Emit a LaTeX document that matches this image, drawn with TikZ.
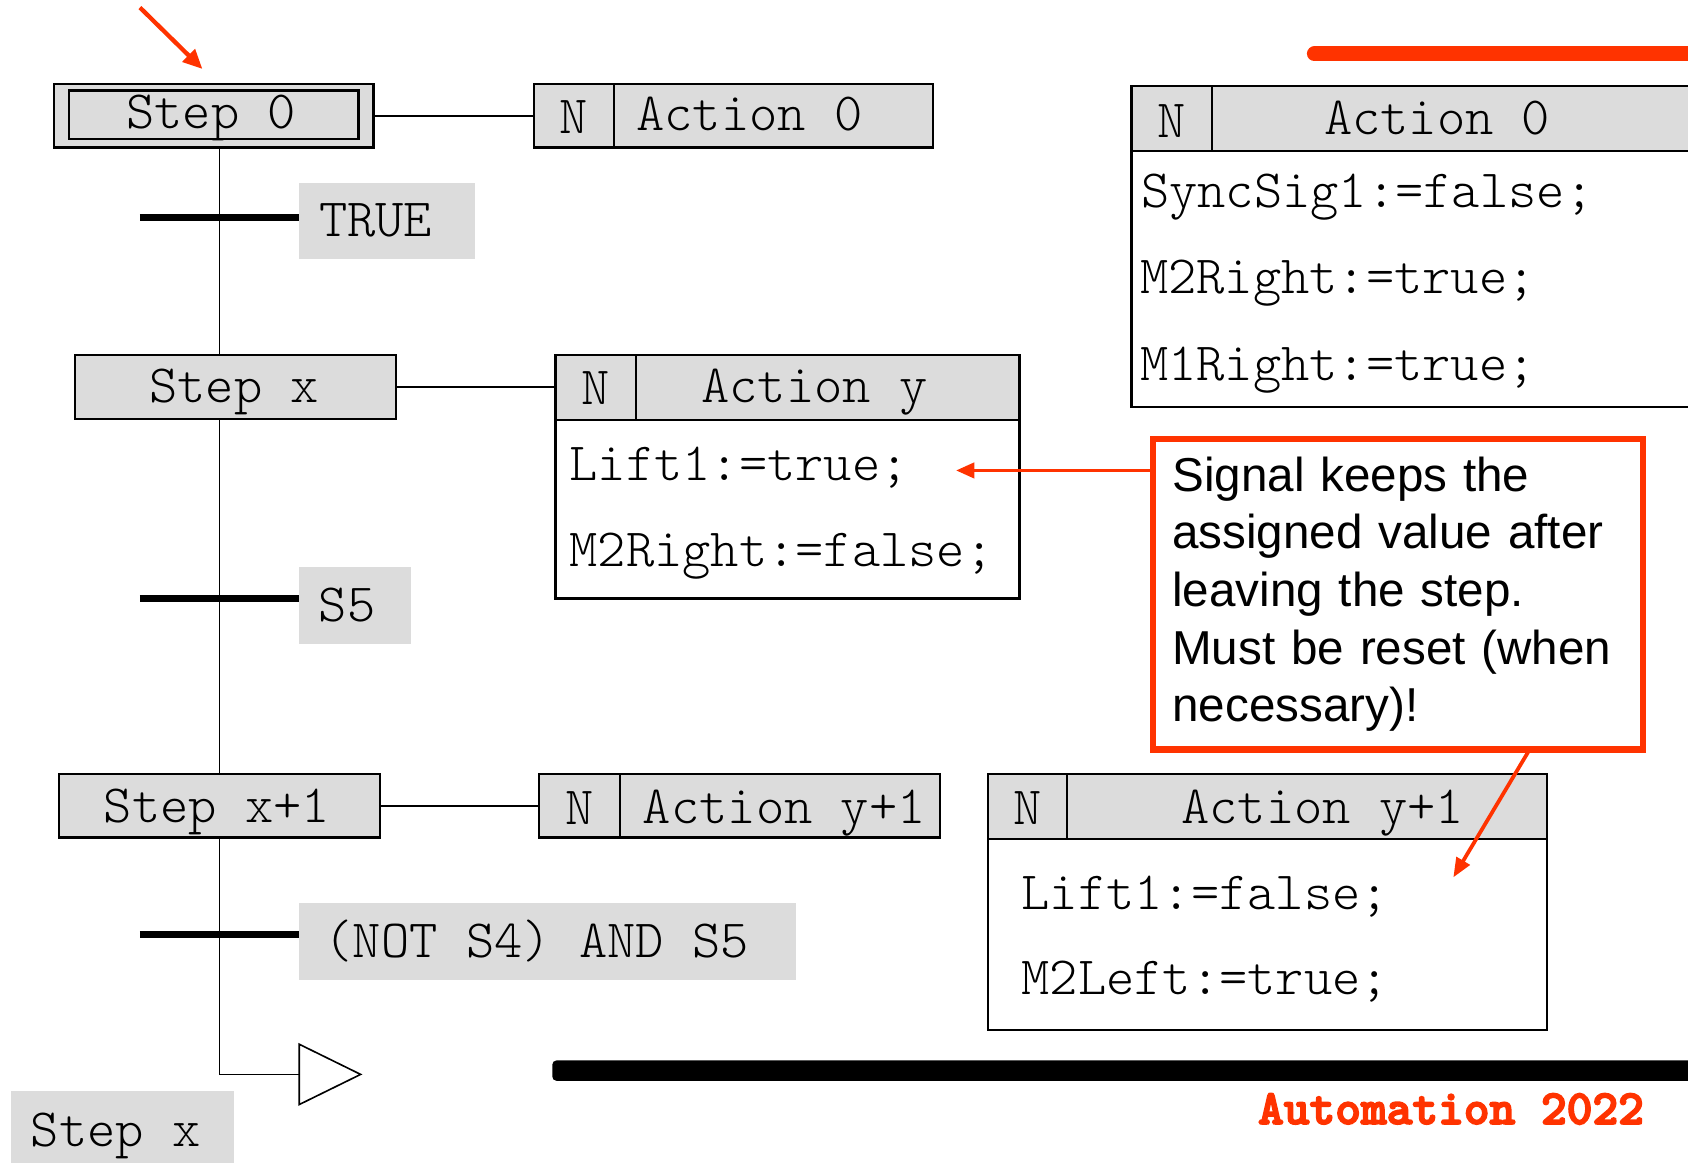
\documentclass[tikz,border=0pt]{standalone}
\usepackage{fontspec}
\newfontfamily\csans{Liberation Sans}
\usetikzlibrary{arrows.meta,calc}
\definecolor{boxgray}{RGB}{220,220,220}
\definecolor{hired}{RGB}{255,51,0}
\newcommand{\cmonofont}{\ttfamily\fontseries{l}\fontsize{50}{58}\selectfont}
\newcommand{\heavytext}[1]{\special{pdf:literal direct 2 Tr 1.6 w}#1\special{pdf:literal direct 0 Tr}}
\begin{document}
\begin{tikzpicture}[x=1pt,y=-1pt,
  every node/.style={inner sep=0pt, outer sep=0pt},
  mtext/.style={font=\cmonofont, anchor=base},
  mleft/.style={font=\cmonofont, anchor=base west},
  graybox/.style={draw=black, line width=2pt, fill=boxgray},
  whitebox/.style={draw=black, line width=2pt, fill=white},
  tlabel/.style={fill=boxgray},
  flow/.style={draw=black, line width=1.6pt},
  tbar/.style={draw=black, line width=6pt},
  redarrow/.style={draw=hired, line width=4pt, -{Triangle[length=18pt,width=16pt]}}
]
\useasboundingbox (0,0) rectangle (1568,1080);

% ---------- steps ----------
\node[graybox, minimum width=297, minimum height=59] (s0) at (198.5,107.5) {};
\draw[line width=2pt] ($(s0.north west)+(14,6)$) rectangle ($(s0.south east)+(-14,-8)$);
\node[mtext] (s0t) at (196,119) {Step 0};

\node[graybox, minimum width=298, minimum height=59] (sx) at (219,359.5) {};
\node[mtext] (sxt) at (217.5,374) {Step x};

\node[graybox, minimum width=298, minimum height=59] (sx1) at (204,748.5) {};
\node[mtext] (sx1t) at (201.5,764) {Step x+1};

% ---------- transitions ----------
\node[tlabel, minimum width=163, minimum height=71] (t1) at (359.5,205.5) {};
\node[mtext] (t1t) at (349,220) {TRUE};
\node[tlabel, minimum width=104, minimum height=71] (t2) at (330,562.5) {};
\node[mtext] (t2t) at (322.5,577) {S5};
\node[tlabel, minimum width=461, minimum height=71] (t3) at (508.5,874.5) {};
\node[mtext] (t3t) at (498.5,889) {(NOT S4) AND S5};

\coordinate (vx) at (204,0);
\coordinate (jump) at (278,998);
\draw[flow] (vx |- s0.south) -- (vx |- sx.north);
\draw[flow] (vx |- sx.south) -- (vx |- sx1.north);
\draw[flow] (vx |- sx1.south) -- (vx |- jump) -- (jump);
\draw[line width=1.5pt, fill=white] (jump) -- ++(0,-28) -- ++(57,28) -- ++(-57,28) -- cycle;

\coordinate (b1) at (130,202);
\coordinate (b2) at (130,556);
\coordinate (b3) at (130,868);
\draw[tbar] (b1) -- (b1 -| t1.west);
\draw[tbar] (b2) -- (b2 -| t2.west);
\draw[tbar] (b3) -- (b3 -| t3.west);

\node[tlabel, minimum width=207, minimum height=72] (sxb) at (113.5,1049) {};
\node[mtext] (sxbt) at (107.5,1065) {Step x};

% ---------- small actions ----------
\node[graybox, minimum width=74, minimum height=59] (a0n) at (533,107.5) {};
\node[graybox, minimum width=297, minimum height=59, anchor=west] (a0a) at (a0n.east) {};
\node[mtext] (a0nt) at (533,124) {N};
\node[mtext] (a0at) at (696,121) {Action 0};
\draw[flow] (s0.east) -- (s0.east -| a0n.west);

\node[graybox, minimum width=75, minimum height=60] (ayn) at (553.5,360) {};
\node[graybox, minimum width=356, minimum height=60, anchor=west] (aya) at (ayn.east) {};
\node[whitebox, minimum width=431, minimum height=166, anchor=north west] (ayb) at (ayn.south west) {};
\node[mtext] (aynt) at (553.5,376) {N};
\node[mtext] (ayat) at (756.5,374) {Action y};
\node[mleft] (ayl1) at (529,446) {Lift1:=true;};
\node[mleft] (ayl2) at (529,526) {M2Right:=false;};
\draw[flow] (sx.east) -- (sx.east -| ayn.west);

\node[graybox, minimum width=75, minimum height=59] (a1n) at (538.5,748.5) {};
\node[graybox, minimum width=297, minimum height=59, anchor=west] (a1a) at (a1n.east) {};
\node[mtext] (a1nt) at (538.5,766) {N};
\node[mtext] (a1at) at (728.5,765) {Action y+1};
\draw[flow] (sx1.east) -- (sx1.east -| a1n.west);

% ---------- big action 0 ----------
\node[graybox, minimum width=75, minimum height=60] (bn) at (1088.5,110) {};
\node[graybox, minimum width=464, minimum height=60, anchor=west] (ba) at (bn.east) {};
\node[whitebox, minimum width=539, minimum height=238, anchor=north west] (bb) at (bn.south west) {};
\node[mtext] (bnt) at (1088.5,128) {N};
\node[mtext] (bat) at (1335,125) {Action 0};
\node[mleft] (bl1) at (1060,193) {SyncSig1:=false;};
\node[mleft] (bl2) at (1059,273) {M2Right:=true;};
\node[mleft] (bl3) at (1059,353) {M1Right:=true;};

% ---------- big action y+1 ----------
\node[graybox, minimum width=73, minimum height=60] (cn) at (954.5,749) {};
\node[graybox, minimum width=446, minimum height=60, anchor=west] (ca) at (cn.east) {};
\node[whitebox, minimum width=519, minimum height=178, anchor=north west] (cb) at (cn.south west) {};
\node[mtext] (cnt) at (954.5,766) {N};
\node[mtext] (cat) at (1228.5,765) {Action y+1};
\node[mleft] (cl1) at (949,845) {Lift1:=false;};
\node[mleft] (cl2) at (949,924) {M2Left:=true;};

% ---------- callout ----------
\node[draw=hired, line width=6pt, fill=white, minimum width=455, minimum height=288,
      text width=419, align=left, inner xsep=18pt,
      font=\csans\fontsize{44.2}{53.5}\selectfont] (call) at (1298.5,552)
  {Signal keeps the\\assigned value after\\leaving the step.\\Must be reset (when\\necessary)!};

\coordinate (lifttip) at (888,437);
\draw[redarrow, line width=3.5pt, -{Triangle[length=17pt,width=14pt]}] (lifttip -| call.west) -- (lifttip);
\coordinate (ytip) at (1350,815);
\coordinate (cx) at (1421,0);
\draw[redarrow, line width=3.5pt, -{Triangle[length=18pt,width=14pt]}] (cx |- call.south) -- (ytip);

% ---------- initial arrow ----------
\coordinate (initfrom) at (130,7);
\coordinate (inittip) at (188,64);
\draw[redarrow] (initfrom) -- (inittip);

% ---------- decorations ----------
\draw[hired, line width=14pt, line cap=round] (1221,50) -- (1600,50);
\fill[black, rounded corners=4pt] (513,985) rectangle (1600,1004);
\node[font=\ttfamily\bfseries\fontsize{45.5}{52}\selectfont, text=hired, anchor=base east] (auto) at (1527,1044) {\heavytext{Automation 2022}};
\end{tikzpicture}
\end{document}
